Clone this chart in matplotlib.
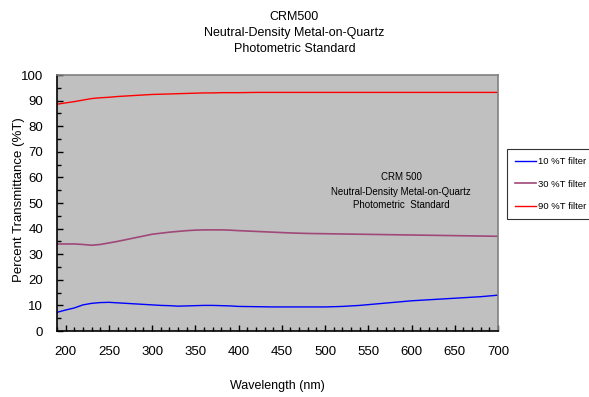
import numpy as np
import matplotlib
matplotlib.use("Agg")
from matplotlib import pyplot as plt
from matplotlib.ticker import MultipleLocator

plt.rcParams['font.family'] = ['Liberation Sans', 'DejaVu Sans']

# wavelength (nm) and %T readings for the three filters
wl = [190, 200, 210, 220, 230, 240, 250, 260, 270, 280, 290, 300, 310, 320, 330, 340,
      350, 360, 370, 380, 390, 400, 420, 440, 460, 480, 500, 520, 540, 560, 580, 600,
      620, 640, 660, 680, 700]
t10 = [7.3, 8.2, 9.0, 10.2, 10.8, 11.1, 11.2, 11.0, 10.8, 10.6, 10.4, 10.2, 10.0, 9.9, 9.7, 9.8,
       9.9, 10.0, 10.0, 9.9, 9.8, 9.6, 9.5, 9.4, 9.4, 9.4, 9.4, 9.6, 10.0, 10.6, 11.2, 11.8,
       12.2, 12.6, 13.0, 13.4, 14.0]
t30 = [34.0, 34.0, 34.0, 33.8, 33.5, 33.8, 34.4, 35.0, 35.7, 36.4, 37.1, 37.8, 38.2, 38.6, 38.9, 39.2,
       39.4, 39.5, 39.5, 39.5, 39.4, 39.2, 38.9, 38.6, 38.3, 38.1, 38.0, 37.9, 37.8, 37.7, 37.6, 37.5,
       37.4, 37.3, 37.2, 37.1, 37.0]
t90 = [88.6, 89.1, 89.6, 90.2, 90.8, 91.1, 91.3, 91.6, 91.8, 92.0, 92.2, 92.4, 92.5, 92.6, 92.7, 92.8,
       92.9, 93.0, 93.0, 93.1, 93.1, 93.1, 93.2, 93.2, 93.2, 93.2, 93.2, 93.2, 93.2, 93.2, 93.2, 93.2,
       93.2, 93.2, 93.2, 93.2, 93.2]

fig = plt.figure(figsize=(5.89, 3.97), dpi=100)
ax = fig.add_axes([57/589, 1-331/397, (498-57)/589, (331-75)/397])
ax.set_facecolor('#C0C0C0')

ax.plot(wl, t10, color='#0000FF', lw=1.0, label='10 %T filter')
ax.plot(wl, t30, color='#A04878', lw=1.2, label='30 %T filter')
ax.plot(wl, t90, color='#FF0000', lw=1.0, label='90 %T filter')

ax.set_xlim(190, 700)
ax.set_ylim(0, 100)
ax.set_xticks(range(200, 701, 50))
ax.xaxis.set_minor_locator(MultipleLocator(10))
ax.set_yticks(range(0, 101, 10))
ax.yaxis.set_minor_locator(MultipleLocator(5))
ax.tick_params(which='both', direction='in', labelsize=9.5, width=1)
ax.tick_params(which='major', length=4)
ax.tick_params(axis='x', which='major', pad=11)
ax.tick_params(axis='y', which='major', pad=10)
ax.tick_params(which='minor', length=3)
ax.tick_params(top=False, right=False)

for s in ['top', 'right']:
    ax.spines[s].set_color('#808080')
    ax.spines[s].set_linewidth(1.2)
for s in ['left', 'bottom']:
    ax.spines[s].set_color('black')
    ax.spines[s].set_linewidth(1.2)

fig.text(19/589, 1-200/397, 'Percent Transmittance (%T)', rotation=90, ha='center', va='center', fontsize=9.5)
fig.text(277/589, 1-386/397, 'Wavelength (nm)', ha='center', va='center', fontsize=9)

fig.text(0.5, 1-17/397, 'CRM500', ha='center', va='center', fontsize=9)
fig.text(0.5, 1-33/397, 'Neutral-Density Metal-on-Quartz', ha='center', va='center', fontsize=9)
fig.text(0.5, 1-49/397, 'Photometric Standard', ha='center', va='center', fontsize=9)

# inner caption, placed in axes pixels
cx = 401
for yy, s in [(177, 'CRM 500'), (192, 'Neutral-Density Metal-on-Quartz'), (205, 'Photometric  Standard')]:
    ax.text((cx - 57) / 441, (331 - yy) / 256, s, transform=ax.transAxes,
            ha='center', va='center', fontsize=7)

leg = fig.legend(loc='upper left', bbox_to_anchor=(507/589, 1-149/397), fontsize=6.8,
                 frameon=True, fancybox=False, handlelength=2.2, handletextpad=0.25,
                 labelspacing=1.45, borderpad=0.85, borderaxespad=0)
leg.get_frame().set_edgecolor('black')
leg.get_frame().set_linewidth(0.8)

fig.savefig('out.png', dpi=100)
